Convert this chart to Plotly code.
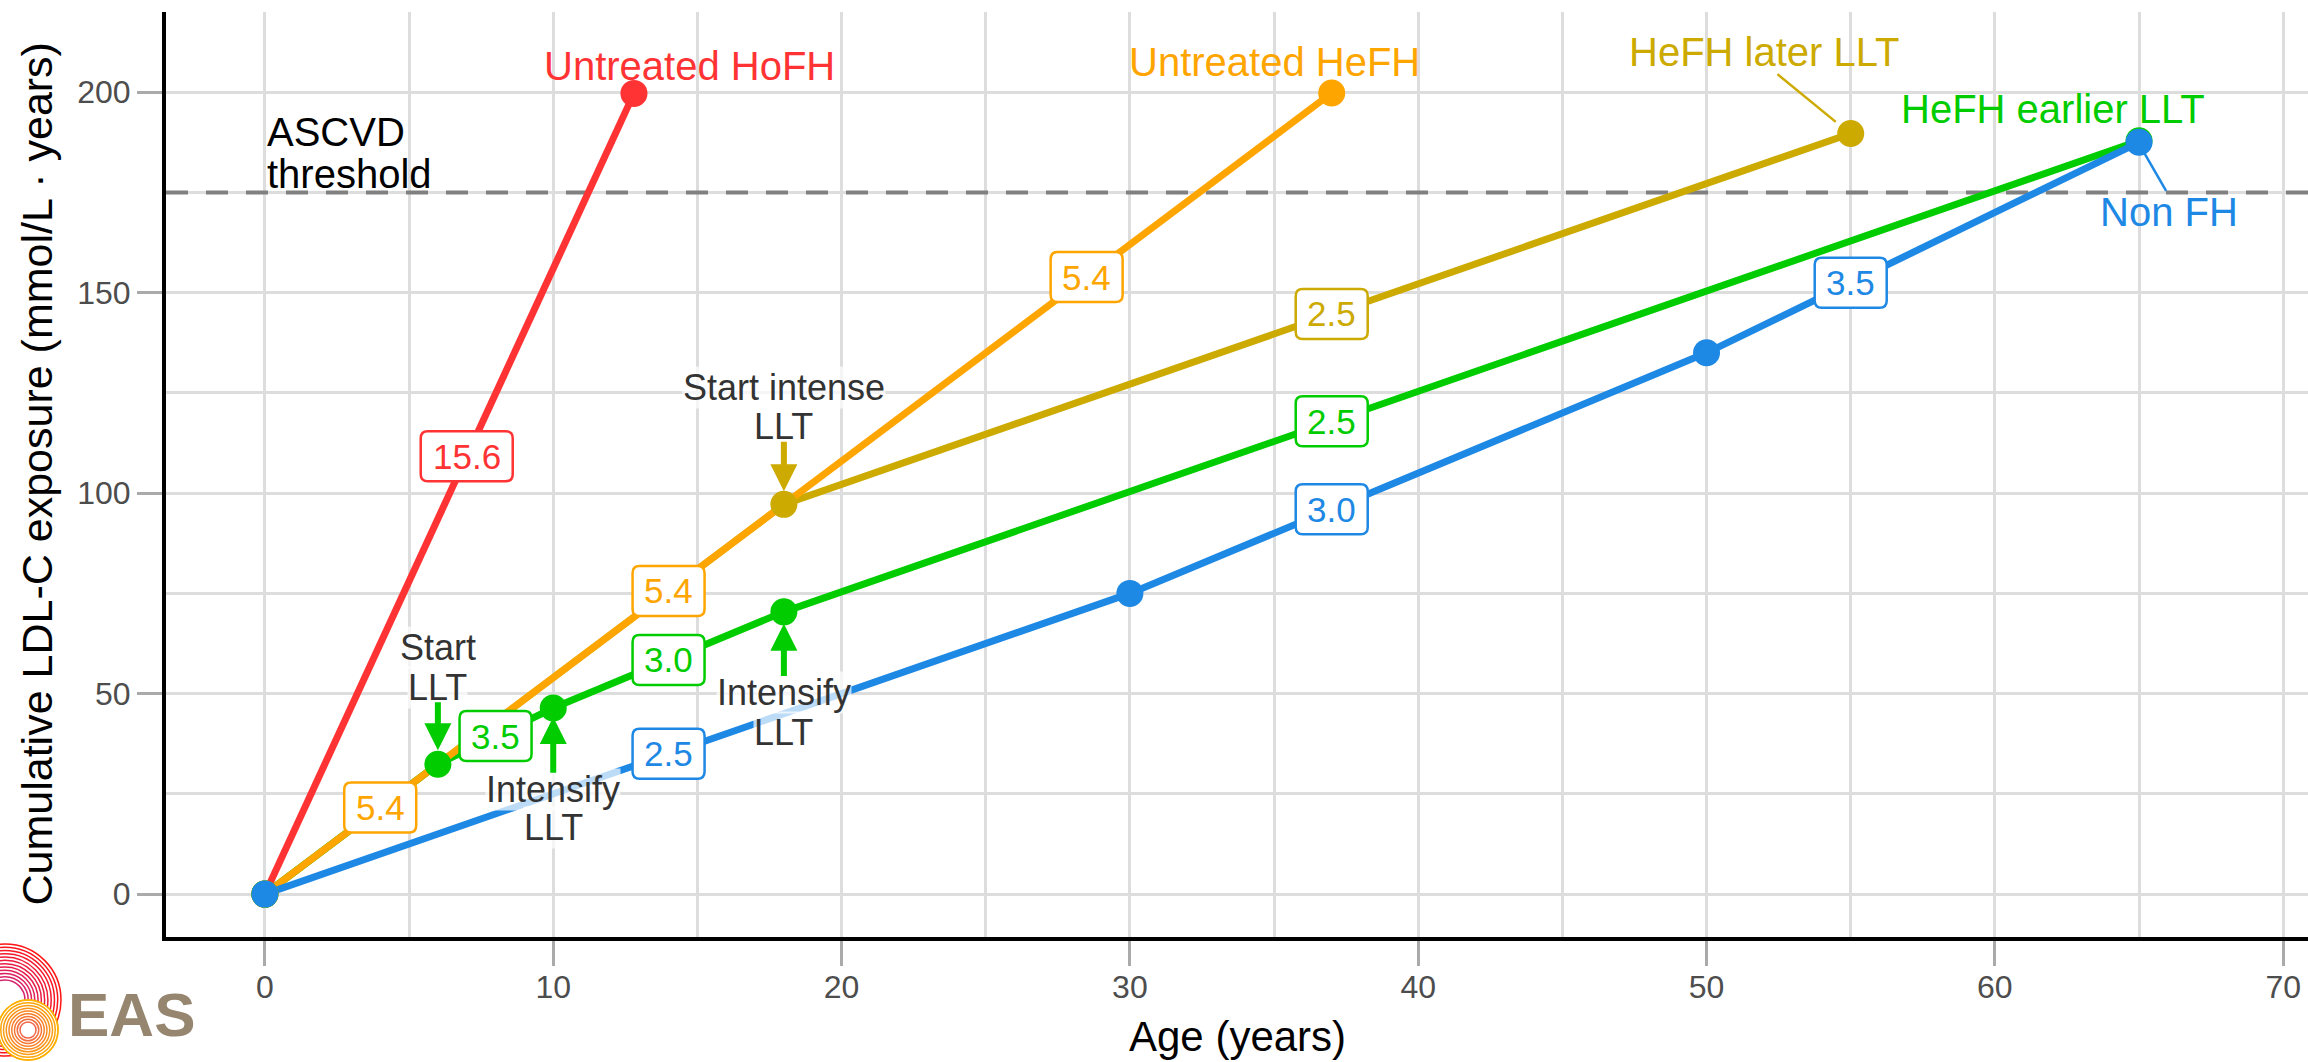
import plotly.graph_objects as go

# ---------------- data ----------------
hofh_age = [0, 12.8]
hofh_val = [0, 199.7]
hefh_age = [0, 37]
hefh_val = [0, 199.8]
later_age = [0, 18, 55]
later_val = [0, 97.2, 189.7]
earlier_age = [0, 6, 10, 18, 65]
earlier_val = [0, 32.4, 46.4, 70.4, 187.9]
nonfh_age = [0, 30, 50, 65]
nonfh_val = [0, 75, 135, 187.5]
threshold = 175

RED = "#FF3333"
ORANGE = "#FFA500"
GOLD = "#CCAA00"
GREEN = "#00CC00"
BLUE = "#1E88E5"

# series labels
series_names = ["Untreated HoFH", "Untreated HeFH", "HeFH later LLT", "HeFH earlier LLT", "Non FH"]
series_colors = [RED, ORANGE, GOLD, GREEN, BLUE]
series_lab_x = [14.71, 35.0, 52.0, 62.0, 66.04]
series_lab_y = [206.5, 207.5, 210.0, 195.8, 170.2]

# slope (rate) labels
slope_text = ["15.6", "5.4", "5.4", "5.4", "2.5", "3.5", "3.0", "2.5", "2.5", "3.0", "3.5"]
slope_x = [7.0, 4.0, 14.0, 28.5, 37.0, 8.0, 14.0, 37.0, 14.0, 37.0, 55.0]
slope_y = [109.2, 21.6, 75.6, 153.9, 144.7, 39.4, 58.4, 117.9, 35.0, 96.0, 152.5]
slope_col = [RED, ORANGE, ORANGE, ORANGE, GOLD, GREEN, GREEN, GREEN, BLUE, BLUE, BLUE]

# event annotations (one entry per text line)
event_text = ["Start intense", "LLT", "Start", "LLT", "Intensify", "LLT", "Intensify", "LLT"]
event_x = [18, 18, 6, 6, 10, 10, 18, 18]
event_y = [126.4, 116.5, 61.4, 51.6, 26.2, 16.5, 50.2, 40.4]

# event arrows: tail -> tip
arrow_x = [18, 6, 10, 18]
arrow_tail_y = [113.2, 48.2, 29.9, 54.0]
arrow_tip_y = [100.5, 35.9, 44.2, 67.4]
arrow_col = [GOLD, GREEN, GREEN, GREEN]

# leader lines for labels
leader_x0 = [52.46, 65.16]
leader_y0 = [204.5, 185.1]
leader_x1 = [54.48, 65.94]
leader_y1 = [192.6, 175.4]
leader_col = [GOLD, BLUE]

x_ticks = [0, 10, 20, 30, 40, 50, 60, 70]
y_ticks = [0, 50, 100, 150, 200]
x_range = [-3.43, 70.86]
y_range = [-10.7, 220]

# ---------------- layout constants ----------------
W, H = 2308, 1062
ML, MR, MT, MB = 166, 0, 12, 125
PW = W - ML - MR
PH = H - MT - MB
FONT = "Liberation Sans, Arial, sans-serif"


def pxx(px):
    return (px - ML) / PW


def pxy(py):
    return (H - MB - py) / PH


fig = go.Figure()

# threshold reference line
fig.add_trace(go.Scatter(x=x_range, y=[threshold, threshold], mode="lines",
                         line=dict(color="#808080", width=4, dash="22px,18px"),
                         hoverinfo="skip", showlegend=False))

series = [
    (later_age, later_val, GOLD),
    (earlier_age, earlier_val, GREEN),
    (hefh_age, hefh_val, ORANGE),
    (hofh_age, hofh_val, RED),
    (nonfh_age, nonfh_val, BLUE),
]
for ax_, ay_, c in series:
    fig.add_trace(go.Scatter(x=ax_, y=ay_, mode="lines", line=dict(color=c, width=7),
                             hoverinfo="skip", showlegend=False))

marker_series = [
    (hofh_age, hofh_val, RED),
    (hefh_age, hefh_val, ORANGE),
    (later_age, later_val, GOLD),
    (earlier_age, earlier_val, GREEN),
    (nonfh_age, nonfh_val, BLUE),
]
for ax_, ay_, c in marker_series:
    fig.add_trace(go.Scatter(x=ax_, y=ay_, mode="markers",
                             marker=dict(color=c, size=27, line=dict(width=0)),
                             hoverinfo="skip", showlegend=False))

annotations = []
shapes = []

# threshold text
annotations.append(dict(x=0, y=190.0, text="ASCVD", xanchor="left", yanchor="middle", showarrow=False,
                        font=dict(family=FONT, size=40, color="black")))
annotations.append(dict(x=0, y=179.6, text="threshold", xanchor="left", yanchor="middle", showarrow=False,
                        font=dict(family=FONT, size=40, color="black")))

for t, x, y, c in zip(series_names, series_lab_x, series_lab_y, series_colors):
    annotations.append(dict(x=x, y=y, text=t, showarrow=False, xanchor="center", yanchor="middle",
                            font=dict(family=FONT, size=40, color=c)))


def rounded_box(w, h, r):
    a, b = w / 2, h / 2
    return (f"M {-a + r},{-b} L {a - r},{-b} Q {a},{-b} {a},{-b + r} "
            f"L {a},{b - r} Q {a},{b} {a - r},{b} L {-a + r},{b} Q {-a},{b} {-a},{b - r} "
            f"L {-a},{-b + r} Q {-a},{-b} {-a + r},{-b} Z")


for t, x, y, c in zip(slope_text, slope_x, slope_y, slope_col):
    bw = 92 if len(t) > 3 else 72
    shapes.append(dict(type="path", xref="x", yref="y", xsizemode="pixel", ysizemode="pixel",
                       xanchor=x, yanchor=y, path=rounded_box(bw, 50, 7),
                       fillcolor="white", line=dict(color=c, width=2.5), layer="above"))
    annotations.append(dict(x=x, y=y, text=t, showarrow=False, xanchor="center", yanchor="middle",
                            font=dict(family=FONT, size=35, color=c)))

for t, x, y in zip(event_text, event_x, event_y):
    annotations.append(dict(x=x, y=y, text=t, showarrow=False, xanchor="center", yanchor="middle",
                            font=dict(family=FONT, size=36, color="#333333"),
                            bgcolor="rgba(255,255,255,0.7)", borderpad=0))

for x, y0, y1, c in zip(arrow_x, arrow_tail_y, arrow_tip_y, arrow_col):
    annotations.append(dict(x=x, y=y1, ax=x, ay=y0, axref="x", ayref="y", text="",
                            showarrow=True, arrowhead=2, arrowsize=0.9, arrowwidth=6,
                            arrowcolor=c, standoff=0, startstandoff=0))

# axis titles
annotations.append(dict(x=0.5, y=pxy(1036), xref="paper", yref="paper", text="Age (years)",
                        showarrow=False, xanchor="center", yanchor="middle",
                        font=dict(family=FONT, size=42, color="black")))
annotations.append(dict(x=pxx(36), y=0.5, xref="paper", yref="paper",
                        text="Cumulative LDL-C exposure (mmol/L \u00b7 years)", textangle=-90,
                        showarrow=False, xanchor="center", yanchor="middle",
                        font=dict(family=FONT, size=43, color="black")))
# EAS logo text
annotations.append(dict(x=pxx(66), y=pxy(1014), xref="paper", yref="paper", text="EAS",
                        showarrow=False, xanchor="left", yanchor="middle",
                        font=dict(family="Liberation Sans Narrow, Liberation Sans, sans-serif",
                                  size=62, color="#968670", weight="bold")))

for x0, y0, x1, y1, c in zip(leader_x0, leader_y0, leader_x1, leader_y1, leader_col):
    shapes.append(dict(type="line", xref="x", yref="y", x0=x0, y0=y0, x1=x1, y1=y1,
                       line=dict(color=c, width=2.5), layer="above"))


def lerp(a, b, t):
    return tuple(int(round(a[i] + (b[i] - a[i]) * t)) for i in range(3))


def ring(cx, cy, r, col, fill="rgba(0,0,0,0)"):
    return dict(type="circle", xref="paper", yref="paper",
                x0=pxx(cx - r), x1=pxx(cx + r), y0=pxy(cy + r), y1=pxy(cy - r),
                line=dict(color="rgb(%d,%d,%d)" % col, width=1.5), fillcolor=fill, layer="above")


n_p = 12
for i in range(n_p):
    t = i / (n_p - 1)
    shapes.append(ring(5, 1000, 20 + 36 * t, lerp((214, 36, 110), (255, 20, 20), t)))
n_o = 9
shapes.append(ring(28, 1030, 30, (255, 176, 0), fill="white"))
for i in range(n_o):
    t = i / (n_o - 1)
    shapes.append(ring(28, 1030, 8 + 22 * t, lerp((240, 100, 70), (255, 176, 0), t)))

axis_common = dict(
    ticks="outside", ticklen=25, tickwidth=3, tickcolor="#AAAAAA",
    showgrid=True, gridcolor="#DDDDDD", gridwidth=2.5,
    showline=True, linecolor="black", linewidth=4, mirror=False, zeroline=False,
    automargin=False,
    tickfont=dict(family=FONT, size=32, color="#4D4D4D"),
)

fig.update_layout(
    width=W, height=H,
    margin=dict(l=ML, r=MR, t=MT, b=MB, pad=0, autoexpand=False),
    paper_bgcolor="white", plot_bgcolor="white",
    showlegend=False,
    xaxis=dict(range=x_range, tickvals=x_ticks, ticktext=[str(v) for v in x_ticks],
               ticklabelstandoff=-6,
               minor=dict(dtick=5, tick0=0, showgrid=True, gridcolor="#DDDDDD", gridwidth=2.5, ticks=""),
               **axis_common),
    yaxis=dict(range=y_range, tickvals=y_ticks, ticktext=[str(v) for v in y_ticks],
               minor=dict(dtick=25, tick0=0, showgrid=True, gridcolor="#DDDDDD", gridwidth=2.5, ticks=""),
               **axis_common),
    annotations=annotations,
    shapes=shapes,
)

fig.write_html("out.html", config={"displayModeBar": False},
               post_script="document.body.style.margin='0';document.body.style.overflow='hidden';")
